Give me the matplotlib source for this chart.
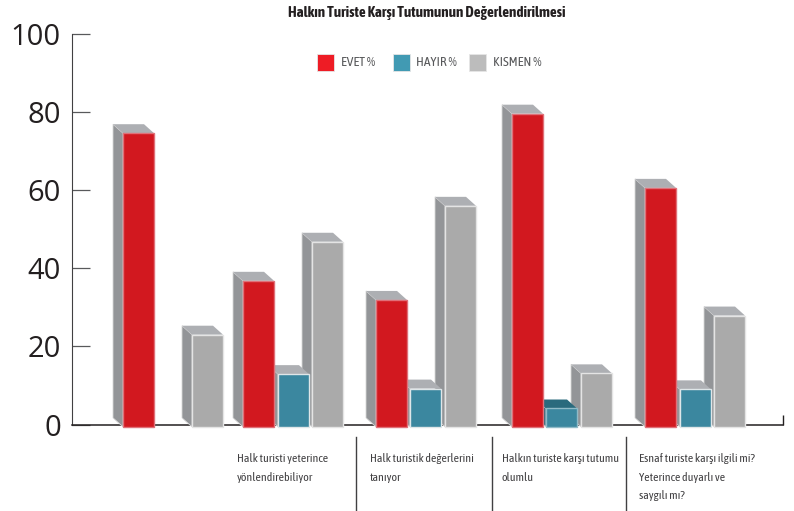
import matplotlib
matplotlib.use('Agg')
import matplotlib.pyplot as plt
from matplotlib import font_manager as fm
from matplotlib.patches import Polygon, Rectangle

# values
evet = [75.2, 37.4, 32.5, 80.2, 61.2]
hayir = [None, 13.5, 9.8, 4.7, 9.6]
kismen = [23.6, 47.4, 56.6, 13.7, 28.5]
evet_x = [123, 243, 376, 512, 645]
hayir_x = [None, 278, 410, 546, 680]
kismen_x = [192, 312, 445, 581, 714]
yticks = [0, 20, 40, 60, 80, 100]
legend_names = ['EVET %', 'HAYIR %', 'KISMEN %']
group_labels = ['Halk turisti yeterince\nyönlendirebiliyor',
                'Halk turistik değerlerini\ntanıyor',
                'Halkın turiste karşı tutumu\nolumlu',
                'Esnaf turiste karşı ilgili mi?\nYeterince duyarlı ve\nsaygılı mı?']
label_x = [237, 370, 502, 639]
sep_x = [356, 492, 626]

# condensed face if there is one, otherwise a smaller Liberation Sans
try:
    fm.findfont('Asap Condensed', fallback_to_default=False)
    NARROW = ['Asap Condensed', 'DejaVu Sans']
    fs = 1.0
except ValueError:
    NARROW = ['Liberation Sans', 'DejaVu Sans']
    fs = 0.82

W, H = 794, 511
BASE = -0.6
DX = 10
DY = 2.3
BAR_W = 31

fig = plt.figure(figsize=(W / 100, H / 100), dpi=100)
ax = fig.add_axes([72 / W, (H - 424.5) / H, (783 - 72) / W, 390.5 / H])
ax.set_xlim(72, 783)
ax.set_ylim(0, 100)
for s in ['top', 'right']:
    ax.spines[s].set_visible(False)
ax.spines['left'].set_color('#414042')
ax.spines['bottom'].set_color('#231f20')
ax.spines['bottom'].set_linewidth(1.1)
ax.set_xticks([])
ax.set_yticks(yticks)
ax.tick_params(axis='y', direction='in', length=13, width=0.9, color='#58595b', pad=8)
for t in ax.get_yticklabels():
    t.set_fontfamily('Open Sans')
    t.set_fontsize(21)
    t.set_color('#231f20')
# small upright at the right end of the base line
ax.plot([783, 783], [0, 2.4], color='#231f20', lw=1, clip_on=False, solid_capstyle='butt')


def bar3d(x, val, z, front, side='#939598', top='#adafb3', edge='#e4e4e4'):
    y = BASE + val
    ax.add_patch(Polygon([(x - DX, BASE + DY), (x, BASE), (x, y), (x - DX, y + DY)],
                         fc=side, ec='#d8d8d8', lw=0.6, clip_on=False, zorder=z))
    ax.add_patch(Polygon([(x - DX, y + DY), (x + BAR_W - 10, y + DY), (x + BAR_W, y), (x, y)],
                         fc=top, ec='none', clip_on=False, zorder=z))
    ax.add_patch(Rectangle((x, BASE), BAR_W, val, fc=front, ec=edge, lw=1,
                           clip_on=False, zorder=z + 0.1))


for x, v in zip(kismen_x, kismen):
    bar3d(x, v, 3, '#aaaaaa')
for x, v in zip(hayir_x, hayir):
    if v is None:
        continue
    if v < 6:
        bar3d(x, v, 4, '#3b879f', side='#2a6a7d', top='#2a6a7d', edge='#8fbac7')
    else:
        bar3d(x, v, 4, '#3b879f', edge='#dfe6e8')
for x, v in zip(evet_x, evet):
    bar3d(x, v, 5, '#d2181f', edge='#e07078')

fig.text(427 / W, 1 - 13 / H, 'Halkın Turiste Karşı Tutumunun Değerlendirilmesi', ha='center', va='center',
         fontsize=10.85 * fs, fontweight='bold', family=NARROW, color='#231f20')

# legend drawn by hand, the original sits inside the plot area
leg_colors = ['#ee1c25', '#419ab3', '#bcbcbc']
leg_box_x = [317, 393, 469]
leg_txt_x = [341, 416, 493]
for bx, tx, c, n in zip(leg_box_x, leg_txt_x, leg_colors, legend_names):
    fig.add_artist(Rectangle((bx / W, 1 - 71 / H), 17 / W, 17 / H, fc=c, ec='#e6e6e6', lw=0.6,
                             transform=fig.transFigure))
    fig.text(tx / W, 1 - 62 / H, n, ha='left', va='center', fontsize=9.7 * fs, family=NARROW, color='#58595b')

for lx, lab in zip(label_x, group_labels):
    fig.text(lx / W, 1 - 453 / H, lab, ha='left', va='top', fontsize=8.6 * fs, family=NARROW,
             color='#414042', linespacing=1.85)
for sx in sep_x:
    fig.add_artist(plt.Line2D([sx / W, sx / W], [0, 1 - 437 / H], color='#414042', lw=1))

fig.savefig('out.png', dpi=100)
